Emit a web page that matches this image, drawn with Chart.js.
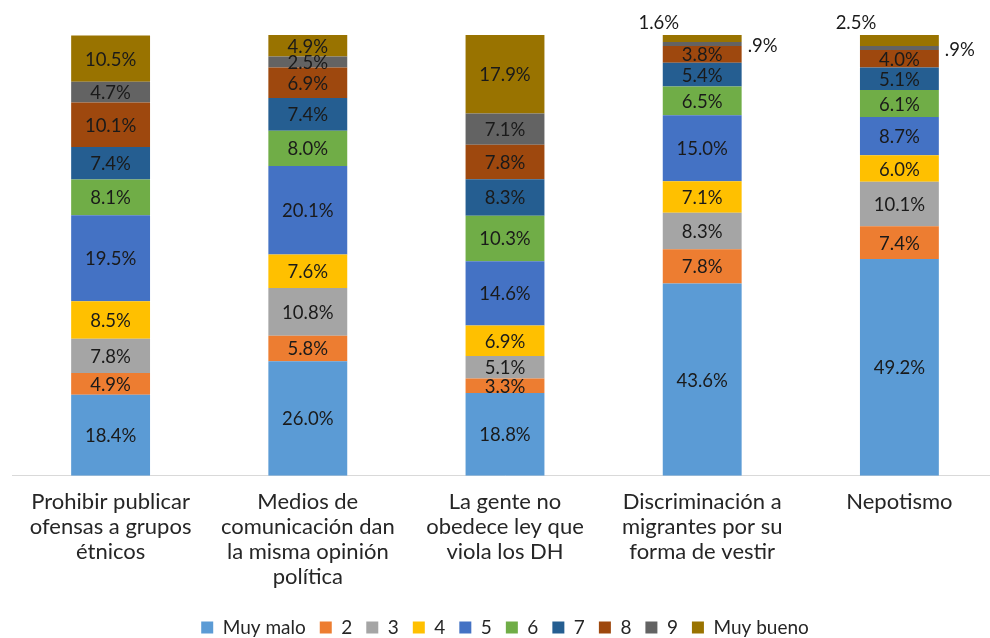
<!DOCTYPE html>
<html>
<head>
<meta charset="utf-8">
<script src="https://cdn.jsdelivr.net/npm/chart.js@4.4.1/dist/chart.umd.min.js"></script>
<style>
  html, body { margin: 0; padding: 0; background: #ffffff; overflow: hidden; }
  #wrap { width: 1000px; height: 647px; }
</style>
</head>
<body>
<div id="wrap"><canvas id="c" width="1000" height="647"></canvas></div>
<script>
const categories = [
  ["Prohibir publicar", "ofensas a grupos", "étnicos"],
  ["Medios de", "comunicación dan", "la misma opinión", "política"],
  ["La gente no", "obedece ley que", "viola los DH"],
  ["Discriminación a", "migrantes por su", "forma de vestir"],
  ["Nepotismo"]
];
const seriesNames = ["Muy malo", "2", "3", "4", "5", "6", "7", "8", "9", "Muy bueno"];
const muyMalo  = [18.4, 26.0, 18.8, 43.6, 49.2];
const s2       = [4.9, 5.8, 3.3, 7.8, 7.4];
const s3       = [7.8, 10.8, 5.1, 8.3, 10.1];
const s4       = [8.5, 7.6, 6.9, 7.1, 6.0];
const s5       = [19.5, 20.1, 14.6, 15.0, 8.7];
const s6       = [8.1, 8.0, 10.3, 6.5, 6.1];
const s7       = [7.4, 7.4, 8.3, 5.4, 5.1];
const s8       = [10.1, 6.9, 7.8, 3.8, 4.0];
const s9       = [4.7, 2.5, 7.1, 0.9, 0.9];
const muyBueno = [10.5, 4.9, 17.9, 1.6, 2.5];

const seriesValues = [muyMalo, s2, s3, s4, s5, s6, s7, s8, s9, muyBueno];
const colors = ["#5B9BD5", "#ED7D31", "#A5A5A5", "#FFC000", "#4472C4",
                "#70AD47", "#255E91", "#9E480E", "#636363", "#997300"];

const FONT = "Lato, 'Open Sans', sans-serif";

function fmt(v) {
  let s = v.toFixed(1);
  if (s.startsWith("0")) s = s.slice(1);
  return s + "%";
}

const labelPlugin = {
  id: "segLabels",
  afterDatasetsDraw(chart) {
    const ctx = chart.ctx;
    ctx.save();
    ctx.font = "18.5px " + FONT;
    ctx.fillStyle = "#1a1a1a";
    chart.data.datasets.forEach((ds, di) => {
      const meta = chart.getDatasetMeta(di);
      meta.data.forEach((bar, i) => {
        const v = ds.data[i];
        const txt = fmt(v);
        const top = Math.min(bar.y, bar.base);
        const bot = Math.max(bar.y, bar.base);
        ctx.textBaseline = "middle";
        if (di === 9 && v < 3) {
          ctx.textAlign = "center";
          ctx.fillText(txt, bar.x - bar.width / 2 - 4, top - 12);
        } else if (di === 8 && v < 1.5) {
          ctx.textAlign = "left";
          ctx.fillText(txt, bar.x + bar.width / 2 + 6, (top + bot) / 2 + 2);
        } else {
          ctx.textAlign = "center";
          ctx.fillText(txt, bar.x, (top + bot) / 2 + 1);
        }
      });
    });
    ctx.restore();
  }
};

new Chart(document.getElementById("c"), {
  type: "bar",
  data: {
    labels: categories,
    datasets: seriesNames.map((n, k) => ({
      label: n,
      data: seriesValues[k],
      backgroundColor: colors[k],
      borderWidth: 0,
      barPercentage: 0.4,
      categoryPercentage: 1.0
    }))
  },
  options: {
    responsive: false,
    animation: false,
    devicePixelRatio: 1,
    layout: { padding: { left: 12, right: 2, top: 35, bottom: 0 } },
    plugins: {
      legend: {
        position: "bottom",
        labels: {
          font: { size: 19, family: FONT },
          color: "#262626",
          boxWidth: 12,
          boxHeight: 12,
          padding: 14
        }
      },
      tooltip: { enabled: false }
    },
    scales: {
      x: {
        stacked: true,
        grid: { display: false, drawTicks: false },
        border: { display: true, color: "#d9d9d9", width: 1 },
        ticks: {
          font: { size: 22, family: FONT, lineHeight: 1.15 },
          color: "#262626",
          padding: 13,
          maxRotation: 0,
          autoSkip: false
        },
        afterFit(scale) { scale.height += 1; }
      },
      y: {
        stacked: true,
        display: false,
        min: 0,
        max: 100
      }
    }
  },
  plugins: [labelPlugin]
});
</script>
</body>
</html>
